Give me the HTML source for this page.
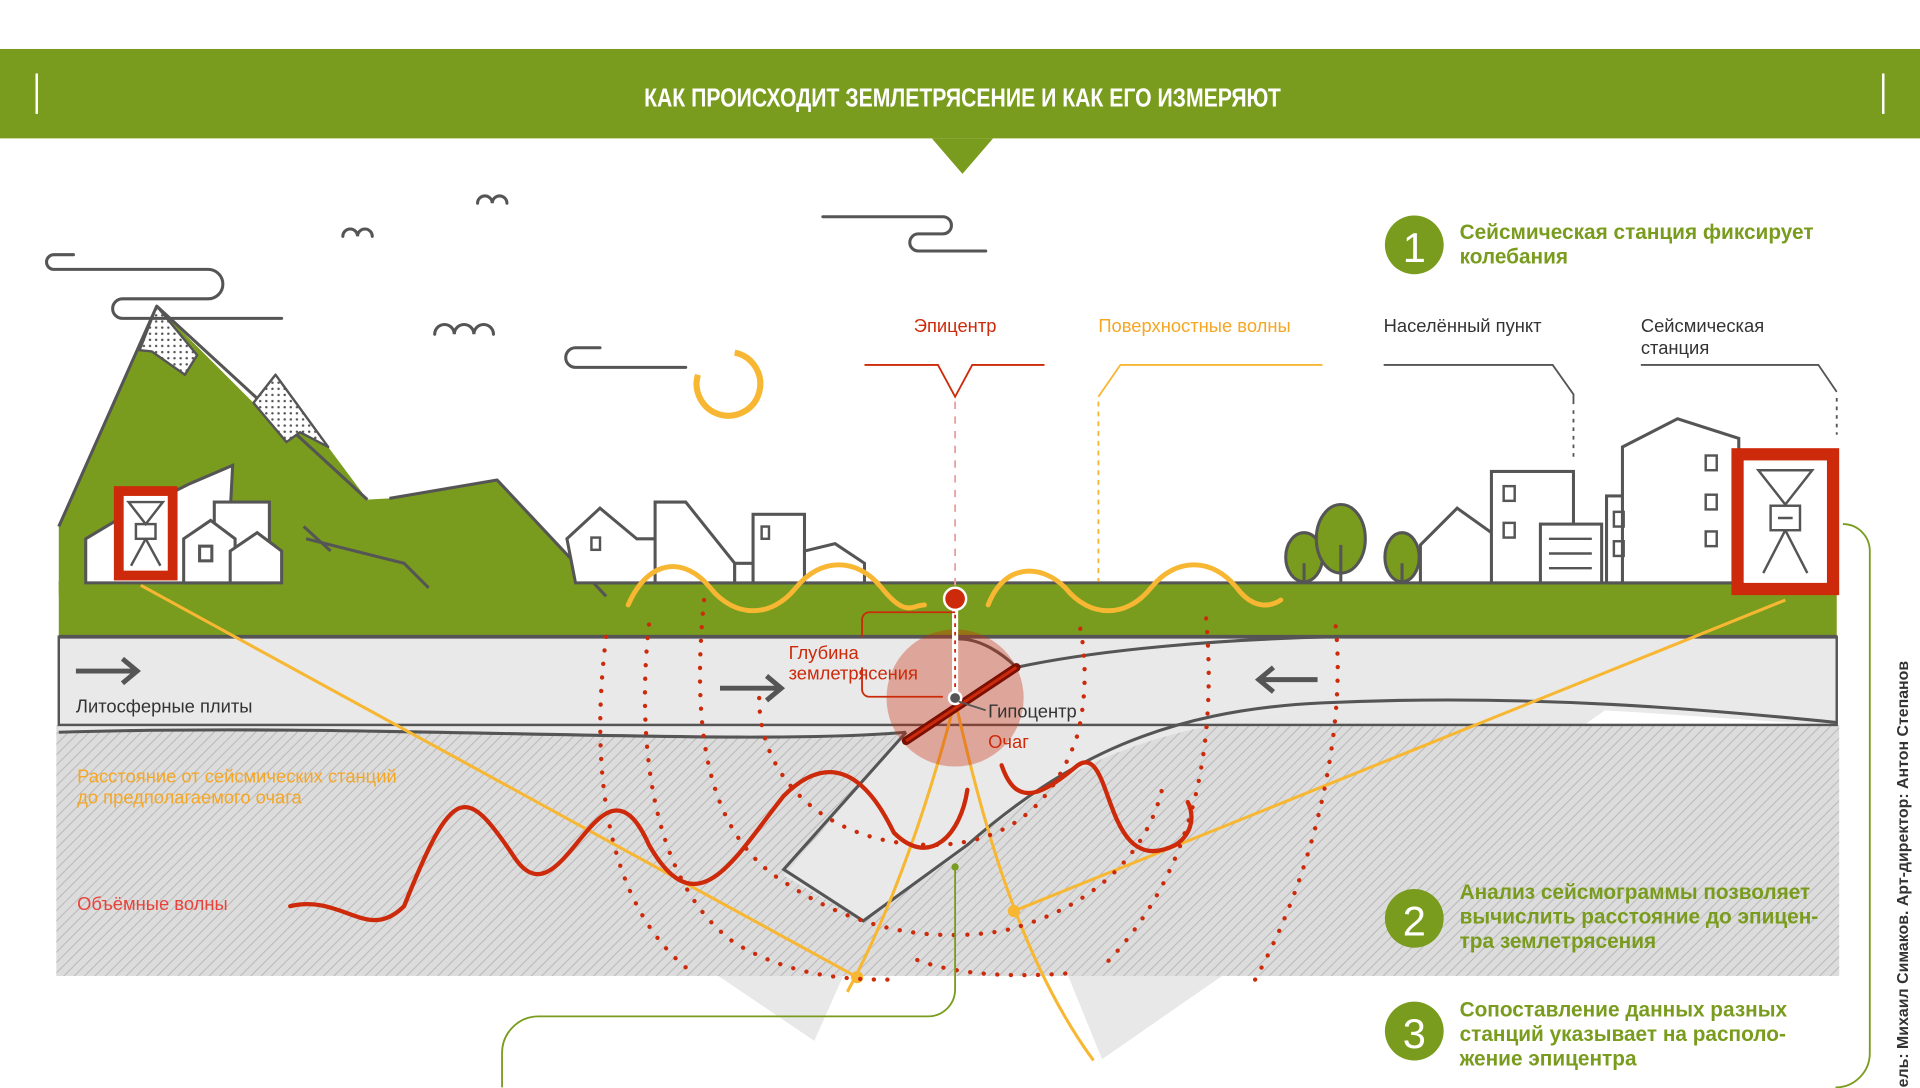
<!DOCTYPE html>
<html><head><meta charset="utf-8"><style>
html,body{margin:0;padding:0;background:#fff;overflow:hidden}
svg{display:block}
text{font-family:"Liberation Sans",sans-serif}
</style></head><body>
<svg width="1920" height="1088" viewBox="0 0 1568 888.5" preserveAspectRatio="none" xmlns="http://www.w3.org/2000/svg">
<defs>
<pattern id="h" width="6" height="6" patternUnits="userSpaceOnUse" patternTransform="rotate(45)">
<rect width="6" height="6" fill="#dcdcdc"/><line x1="0" y1="0" x2="0" y2="6" stroke="#b8b8b8" stroke-width="1.6"/></pattern>
<pattern id="dots" width="5" height="5" patternUnits="userSpaceOnUse"><rect width="5" height="5" fill="#fff"/><circle cx="2.5" cy="2.5" r="1" fill="#555"/></pattern>
</defs>
<!-- header -->
<rect x="0" y="40" width="1568" height="73" fill="#7a9c1e"/>
<polygon points="761,113 811,113 786,142" fill="#7a9c1e"/>
<line x1="30" y1="60" x2="30" y2="93" stroke="#fff" stroke-width="2"/>
<line x1="1538" y1="60" x2="1538" y2="93" stroke="#fff" stroke-width="2"/>
<text x="786" y="87" fill="#fff" font-size="21" font-weight="bold" text-anchor="middle" font-family="Liberation Sans Narrow,Liberation Sans,sans-serif" textLength="520" lengthAdjust="spacingAndGlyphs">КАК ПРОИСХОДИТ ЗЕМЛЕТРЯСЕНИЕ И КАК ЕГО ИЗМЕРЯЮТ</text>

<!-- shadow cones -->
<polygon points="115,478 665,850 790,570" fill="#000" opacity="0.09"/>
<polygon points="1455,480 900,865 780,570" fill="#000" opacity="0.09"/>

<!-- mantle -->
<rect x="46" y="592" width="1456" height="205" fill="url(#h)"/>
<!-- lithosphere -->
<path d="M48,520 H1500 V592 C1350,585 1150,560 1000,590 C900,610 850,640 780,700 L705,752 L640,715 L740,598 C600,610 300,590 48,598 Z" fill="#e9e9e9"/>
<path d="M48,598 C300,590 600,610 740,598" fill="none" stroke="#555" stroke-width="2.5"/>
<path d="M740,598 L640,710 L705,752 L790,690 C870,620 950,580 1080,574 C1250,566 1400,580 1500,590" fill="none" stroke="#555" stroke-width="2.5"/>
<path d="M780,522 C800,520 820,535 830,545 C900,530 1000,522 1090,520" fill="none" stroke="#555" stroke-width="2.5"/>
<rect x="48" y="520" width="1452" height="72" fill="none" stroke="#555" stroke-width="2"/>
<!-- arrows -->
<g fill="none" stroke="#555" stroke-width="4">
<path d="M62,548 H110 M100,538 L112,548 L100,558"/>
<path d="M588,562 H636 M626,552 L638,562 L626,572"/>
<path d="M1076,555 H1030 M1040,545 L1028,555 L1040,565"/>
</g>
<text x="62" y="582" font-size="15" fill="#333">Литосферные плиты</text>

<!-- ground -->
<rect x="48" y="476" width="1452" height="44" fill="#7a9c1e"/>
<line x1="48" y1="476" x2="1500" y2="476" stroke="#555" stroke-width="2.5"/>
<line x1="48" y1="520" x2="1500" y2="520" stroke="#555" stroke-width="3"/>

<!-- mountains -->
<polygon points="48,430 128,250 207,329 225,306 268,365 300,408 318,407 406,392 495,487 48,487" fill="#7a9c1e"/>
<path d="M48,430 L128,250 L300,408 M318,407 L406,392 L495,487" fill="none" stroke="#555" stroke-width="2.5" stroke-linejoin="round"/>
<polygon points="128,250 114,286 124,287 151,306 161,290" fill="url(#dots)" stroke="#555" stroke-width="2" stroke-linejoin="round"/>
<polygon points="207,329 225,306 268,365 245,353 234,361" fill="url(#dots)" stroke="#555" stroke-width="2" stroke-linejoin="round"/>
<path d="M250,440 L330,460 L350,480 M248,430 L270,450" fill="none" stroke="#555" stroke-width="2.5"/>

<!-- sky decorations -->
<g fill="none" stroke="#555" stroke-width="2.5" stroke-linecap="round">
<path d="M60,208 H44 a6,6 0 0 0 0,12 H170 a12,12 0 0 1 0,24 H100 a8,8 0 0 0 0,16 H230"/>
<path d="M490,284 H470 a8,8 0 0 0 0,16 H560"/>
<path d="M672,177 H770 a7,7 0 0 1 0,14 H750 a7,7 0 0 0 0,14 H805"/>
<path d="M280,193 a6,6 0 0 1 12,0 a6,6 0 0 1 12,0"/>
<path d="M390,166 a6,6 0 0 1 12,0 a6,6 0 0 1 12,0"/>
<path d="M355,273 a8,8 0 0 1 16,0 a8,8 0 0 1 16,0 a8,8 0 0 1 16,0"/>
</g>
<path d="M600,288 a26,26 0 1 1 -30,18" fill="none" stroke="#f7b733" stroke-width="5"/>

<!-- left village -->
<g fill="#fff" stroke="#555" stroke-width="2.5">
<path d="M70,476 V440 L95,425 L155,395 L190,380 L185,476 Z"/>
<rect x="175" y="410" width="45" height="66"/>
<path d="M150,476 V440 L172,425 L192,440 V476 Z"/>
<path d="M188,476 V450 L210,435 L230,450 V476 Z"/>
<rect x="163" y="446" width="10" height="12"/>
</g>
<rect x="93" y="397" width="52" height="77" fill="#cc2a0a"/>
<rect x="101" y="405" width="36" height="61" fill="#fff"/>
<g fill="none" stroke="#555" stroke-width="2"><path d="M105,410 L119,428 L133,410 Z"/><rect x="111" y="428" width="16" height="12"/><path d="M119,440 L107,462 M119,440 L131,462"/></g>

<!-- middle village -->
<g fill="#fff" stroke="#555" stroke-width="2.5">
<path d="M463,440 L490,415 L520,440 H560 V476 H470 Z"/>
<path d="M535,476 V410 H560 L600,460 V476 Z"/>
<path d="M600,476 V460 H618 V476 Z"/>
<rect x="615" y="420" width="42" height="56"/>
<path d="M657,476 V450 L682,444 L706,460 V476 Z"/>
</g>
<rect x="622" y="430" width="6" height="10" fill="none" stroke="#555" stroke-width="2"/>
<rect x="483" y="439" width="7" height="10" fill="none" stroke="#555" stroke-width="2"/>

<!-- right village -->
<g stroke="#555" stroke-width="2.5">
<g fill="#7a9c1e"><ellipse cx="1065" cy="455" rx="15" ry="20"/><ellipse cx="1095" cy="440" rx="20" ry="28"/><ellipse cx="1145" cy="455" rx="14" ry="20"/></g>
<path d="M1065,460 V476 M1095,445 V476 M1145,460 V476" fill="none"/>
<g fill="#fff">
<path d="M1160,476 V445 L1190,415 L1225,440 V476 Z"/>
<rect x="1218" y="385" width="67" height="91"/>
<rect x="1258" y="428" width="50" height="48"/>
<rect x="1312" y="405" width="45" height="71"/>
<path d="M1325,476 V365 L1370,342 L1420,358 V476 Z"/>
</g>
<g fill="none" stroke-width="2"><rect x="1228" y="397" width="9" height="12"/><rect x="1228" y="427" width="9" height="12"/><rect x="1393" y="372" width="9" height="12"/><rect x="1393" y="404" width="9" height="12"/><rect x="1393" y="434" width="9" height="12"/><rect x="1318" y="418" width="8" height="12"/><rect x="1318" y="442" width="8" height="12"/><path d="M1265,440 H1300 M1265,452 H1300 M1265,464 H1300"/></g>
</g>
<rect x="1414" y="366" width="88" height="120" fill="#cc2a0a"/>
<rect x="1424" y="376" width="68" height="100" fill="#fff"/>
<g fill="none" stroke="#555" stroke-width="2"><path d="M1436,384 L1458,412 L1480,384 Z"/><rect x="1446" y="413" width="24" height="20"/><path d="M1452,423 H1464 M1458,433 L1440,468 M1458,433 L1476,468"/></g>

<!-- station lines -->
<g stroke="#f7b733" stroke-width="2.5" fill="none">
<line x1="115" y1="478" x2="700" y2="798"/>
<line x1="1458" y1="490" x2="828" y2="744"/>
<path d="M780,572 C760,650 730,740 692,810"/>
<path d="M780,572 C800,660 830,780 893,866"/>
</g>
<circle cx="700" cy="798" r="5" fill="#f7b733"/><circle cx="828" cy="744" r="5" fill="#f7b733"/>

<!-- focus circle -->
<circle cx="780" cy="570" r="56" fill="#cc2a0a" opacity="0.35"/>
<path d="M740,605 L830,545" stroke="#7a1004" stroke-width="7" stroke-linecap="round"/>
<path d="M740,605 L830,545" stroke="#cc2a0a" stroke-width="2.5"/>

<!-- dotted body waves -->
<g fill="none" stroke="#cc2a0a" stroke-width="3.5" stroke-dasharray="0.1 11" stroke-linecap="round">
<path d="M530,510 C520,600 530,720 600,770 C650,800 700,800 730,800"/>
<path d="M575,490 C565,590 575,680 640,720 C700,760 760,770 820,760 C900,740 940,690 950,640"/>
<path d="M620,570 C620,640 680,690 760,690 C820,690 860,660 880,600 C890,560 885,520 880,505"/>
<path d="M495,520 C480,640 500,740 560,790"/>
<path d="M1025,800 C1080,700 1100,580 1090,505"/>
<path d="M985,505 C995,620 970,720 900,790 M870,795 C800,800 760,790 740,780"/>
</g>
<!-- body waves -->
<g fill="none" stroke="#cc2a0a" stroke-width="3.5" stroke-linecap="round">
<path d="M237,740 C280,730 300,770 330,740 C370,640 380,640 420,700 C460,760 490,600 530,690 C570,760 600,700 640,650 C690,600 720,660 730,680 C760,710 785,680 790,645"/>
<path d="M818,625 C830,660 850,650 880,625 C910,605 900,720 960,690 C975,680 975,665 970,655"/>
</g>

<!-- surface waves -->
<g fill="none" stroke="#f7b733" stroke-width="4" stroke-linecap="round">
<path d="M513,494 C530,455 560,455 580,480 C600,505 630,505 650,480 C670,455 700,455 720,480 C740,505 745,494 755,494"/>
<path d="M807,494 C820,460 850,460 870,480 C890,505 920,505 940,480 C960,455 990,455 1010,480 C1025,500 1040,494 1046,490"/>
</g>

<!-- epicenter line -->
<line x1="780" y1="328" x2="780" y2="480" stroke="#e8a0a0" stroke-width="1.5" stroke-dasharray="6 6"/>
<line x1="780" y1="495" x2="780" y2="570" stroke="#fff" stroke-width="5"/>
<line x1="780" y1="495" x2="780" y2="570" stroke="#cc2a0a" stroke-width="1.5" stroke-dasharray="3 4"/>
<circle cx="780" cy="489" r="9" fill="#cc2a0a" stroke="#fff" stroke-width="2"/>
<circle cx="780" cy="570" r="5" fill="#555" stroke="#fff" stroke-width="2"/>
<line x1="783" y1="573" x2="805" y2="580" stroke="#555" stroke-width="1.5"/>
<path d="M780,500 H710 a6,6 0 0 0 -6,6 V520 M704,545 V563 a6,6 0 0 0 6,6 H770" fill="none" stroke="#cc2a0a" stroke-width="1.5"/>
<text x="644" y="538" font-size="15" fill="#cc2a0a">Глубина</text>
<text x="644" y="555" font-size="15" fill="#cc2a0a">землетрясения</text>
<text x="807" y="586" font-size="15" fill="#333">Гипоцентр</text>
<text x="807" y="611" font-size="15" fill="#cc2a0a">Очаг</text>

<!-- top labels -->
<text x="780" y="271" font-size="15" fill="#cc2a0a" text-anchor="middle">Эпицентр</text>
<path d="M706,298 H766 L780,324 L794,298 H853" fill="none" stroke="#cc2a0a" stroke-width="1.5"/>
<text x="897" y="271" font-size="15" fill="#f5a623">Поверхностные волны</text>
<path d="M1080,298 H915 L897,324" fill="none" stroke="#f7b733" stroke-width="1.5"/>
<line x1="897" y1="328" x2="897" y2="475" stroke="#f7b733" stroke-width="1.5" stroke-dasharray="4 4"/>
<text x="1130" y="271" font-size="15" fill="#333">Населённый пункт</text>
<path d="M1130,298 H1268 L1285,322 V330" fill="none" stroke="#555" stroke-width="1.5"/>
<line x1="1285" y1="335" x2="1285" y2="375" stroke="#555" stroke-width="1.5" stroke-dasharray="3 4"/>
<text x="1340" y="271" font-size="15" fill="#333">Сейсмическая</text>
<text x="1340" y="289" font-size="15" fill="#333">станция</text>
<path d="M1340,298 H1485 L1500,320" fill="none" stroke="#555" stroke-width="1.5"/>
<line x1="1500" y1="325" x2="1500" y2="355" stroke="#555" stroke-width="1.5" stroke-dasharray="3 4"/>

<text x="63" y="639" font-size="15" fill="#f5a623">Расстояние от сейсмических станций</text>
<text x="63" y="656" font-size="15" fill="#f5a623">до предполагаемого очага</text>
<text x="63" y="743" font-size="15" fill="#e8433a">Объёмные волны</text>

<!-- green connectors -->
<path d="M780,708 V808 a22,22 0 0 1 -22,22 H440 a30,30 0 0 0 -30,30 V888" fill="none" stroke="#7a9c1e" stroke-width="1.5"/>
<circle cx="780" cy="708" r="3" fill="#7a9c1e"/>
<path d="M1505,428 a22,22 0 0 1 22,22 V860 a28,28 0 0 1 -28,28" fill="none" stroke="#7a9c1e" stroke-width="1.5"/>

<!-- numbered steps -->
<g font-weight="bold" font-size="17" fill="#7a9c1e">
<circle cx="1155" cy="200" r="24"/><text x="1155" y="214" font-size="34" font-weight="normal" fill="#fff" text-anchor="middle">1</text>
<text x="1192" y="195">Сейсмическая станция фиксирует</text>
<text x="1192" y="215">колебания</text>
<circle cx="1155" cy="750" r="24"/><text x="1155" y="764" font-size="34" font-weight="normal" fill="#fff" text-anchor="middle">2</text>
<text x="1192" y="734">Анализ сейсмограммы позволяет</text>
<text x="1192" y="754">вычислить расстояние до эпицен-</text>
<text x="1192" y="774">тра землетрясения</text>
<circle cx="1155" cy="842" r="24"/><text x="1155" y="856" font-size="34" font-weight="normal" fill="#fff" text-anchor="middle">3</text>
<text x="1192" y="830">Сопоставление данных разных</text>
<text x="1192" y="850">станций указывает на располо-</text>
<text x="1192" y="870">жение эпицентра</text>
</g>
<text transform="translate(1558,888) rotate(-90)" font-size="13" font-weight="bold" fill="#333">ель: Михаил Симаков. Арт-директор: Антон Степанов</text>
</svg>
</body></html>
